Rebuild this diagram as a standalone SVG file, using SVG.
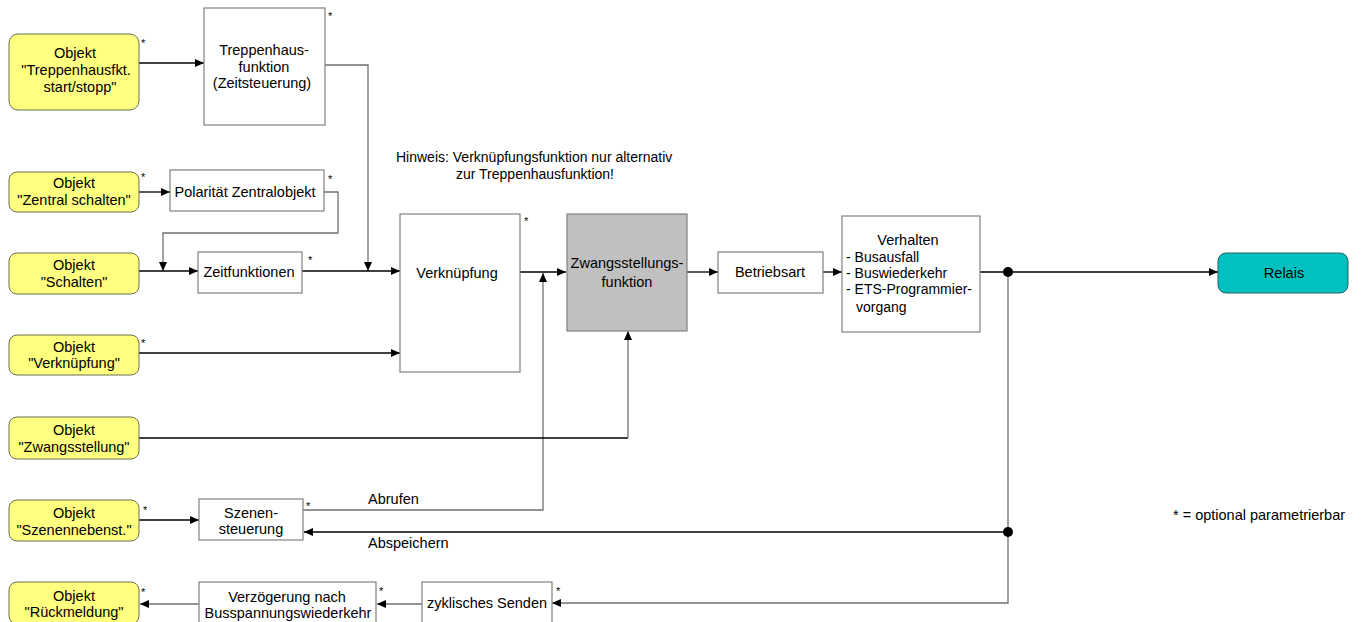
<svg xmlns="http://www.w3.org/2000/svg" width="1363" height="622" viewBox="0 0 1363 622">
<defs>
<marker id="ah" markerUnits="userSpaceOnUse" markerWidth="10" markerHeight="8" refX="9" refY="4" orient="auto">
<path d="M0,0 L9,4 L0,8 Z" fill="#000"/>
</marker>
<style>
text{font-family:"Liberation Sans",Arial,sans-serif;font-size:14.5px;fill:#000}
.c{text-anchor:middle}
.sm{font-size:14px}
.st{font-size:11px}
.obj{fill:#ffff80;stroke:#6f6f50;stroke-width:1}
.box{fill:#fff;stroke:#808080;stroke-width:1.2}
.gbox{fill:#c0c0c0;stroke:#808080;stroke-width:1.2}
.rel{fill:#00c0c0;stroke:#2f6060;stroke-width:1}
.ln{fill:none;stroke:#000;stroke-width:1.3}
.gl{fill:none;stroke:#707070;stroke-width:1.3}
.ar{marker-end:url(#ah)}
</style>
</defs>
<rect width="1363" height="622" fill="#fff"/>

<g id="connectors">
<path class="ln ar" d="M139,63 H204"/>
<path class="gl ar" d="M325,65 H368 V271"/>
<path class="ln ar" d="M139,192 H170"/>
<path class="gl ar" d="M324,192 H338 V233 H163 V271"/>
<path class="ln ar" d="M139,271 H198"/>
<path class="ln ar" d="M302,271 H400"/>
<path class="ln ar" d="M139,353 H400"/>
<path class="ln ar" d="M520,272 H566"/>
<path class="ln ar" d="M139,520 H199"/>
<path class="gl ar" d="M303,510 H543 V273"/>
<path class="ln" d="M139,438 H628"/>
<path class="gl ar" d="M628,438 V331"/>
<path class="ln ar" d="M687,272 H718"/>
<path class="ln ar" d="M823,272 H842"/>
<path class="ln ar" d="M980,272 H1218"/>
<path class="gl ar" d="M1008,272 V603 H552"/>
<path class="ln ar" d="M1008,532 H304"/>
<path class="gl ar" d="M422,604 H377"/>
<path class="gl ar" d="M199,604 H140"/>
<circle cx="1008" cy="272" r="5" fill="#000"/>
<circle cx="1008" cy="532" r="5" fill="#000"/>
<text x="368" y="504">Abrufen</text>
<text x="368" y="548">Abspeichern</text>
</g>

<g id="obj-treppenhaus">
<rect class="obj" x="9" y="34" width="130" height="76" rx="9"/>
<text class="c" x="75" y="58">Objekt</text>
<text class="c" x="76" y="75">"Treppenhausfkt.</text>
<text class="c" x="80" y="92">start/stopp"</text>
<text class="st" x="141" y="47">*</text>
</g>
<g id="obj-zentral">
<rect class="obj" x="9" y="172" width="130" height="40" rx="8"/>
<text class="c" x="74" y="188">Objekt</text>
<text class="c" x="74" y="205">"Zentral schalten"</text>
<text class="st" x="141" y="181">*</text>
</g>
<g id="obj-schalten">
<rect class="obj" x="9" y="253" width="130" height="41" rx="8"/>
<text class="c" x="74" y="270">Objekt</text>
<text class="c" x="74" y="287">"Schalten"</text>
</g>
<g id="obj-verknuepfung">
<rect class="obj" x="9" y="335" width="130" height="40" rx="8"/>
<text class="c" x="74" y="352">Objekt</text>
<text class="c" x="74" y="368">"Verknüpfung"</text>
<text class="st" x="141" y="347">*</text>
</g>
<g id="obj-zwangsstellung">
<rect class="obj" x="9" y="417" width="130" height="42" rx="8"/>
<text class="c" x="74" y="435">Objekt</text>
<text class="c" x="74" y="452">"Zwangsstellung"</text>
</g>
<g id="obj-szenen">
<rect class="obj" x="9" y="500" width="130" height="41" rx="8"/>
<text class="c" x="74" y="518">Objekt</text>
<text class="c" x="74" y="535">"Szenennebenst."</text>
<text class="st" x="143" y="514">*</text>
</g>
<g id="obj-rueckmeldung">
<rect class="obj" x="9" y="582" width="130" height="42" rx="8"/>
<text class="c" x="74" y="601">Objekt</text>
<text class="c" x="74" y="617">"Rückmeldung"</text>
<text class="st" x="141" y="596">*</text>
</g>

<g id="treppenhausfunktion">
<rect class="box" x="204" y="8" width="121" height="117"/>
<text class="c" x="264" y="55">Treppenhaus-</text>
<text class="c" x="264" y="72">funktion</text>
<text class="c" x="262" y="88">(Zeitsteuerung)</text>
<text class="st" x="328" y="20">*</text>
</g>
<g id="polaritaet">
<rect class="box" x="170" y="170" width="154" height="41"/>
<text class="c" x="245" y="197">Polarität Zentralobjekt</text>
<text class="st" x="328" y="183">*</text>
</g>
<g id="zeitfunktionen">
<rect class="box" x="198" y="252" width="104" height="41"/>
<text class="c" x="249" y="277">Zeitfunktionen</text>
<text class="st" x="308" y="264">*</text>
</g>
<g id="hinweis">
<text class="sm" x="396" y="162">Hinweis: Verknüpfungsfunktion nur alternativ</text>
<text class="sm" x="456" y="179">zur Treppenhausfunktion!</text>
</g>
<g id="verknuepfung">
<rect class="box" x="400" y="214" width="120" height="158"/>
<text class="c" x="457" y="278">Verknüpfung</text>
<text class="st" x="524" y="225">*</text>
</g>
<g id="zwangsstellungsfunktion">
<rect class="gbox" x="567" y="214" width="120" height="117"/>
<text class="c" x="627" y="268">Zwangsstellungs-</text>
<text class="c" x="627" y="287">funktion</text>
</g>
<g id="betriebsart">
<rect class="box" x="718" y="252" width="105" height="41"/>
<text class="c" x="770" y="277">Betriebsart</text>
</g>
<g id="verhalten">
<rect class="box" x="842" y="216" width="138" height="116"/>
<text class="c" x="908" y="245">Verhalten</text>
<text class="sm" x="846" y="262">- Busausfall</text>
<text class="sm" x="846" y="278">- Buswiederkehr</text>
<text class="sm" x="846" y="294">- ETS-Programmier-</text>
<text class="sm" x="856" y="312">vorgang</text>
</g>
<g id="relais">
<rect class="rel" x="1218" y="253" width="130" height="40" rx="8"/>
<text class="c" x="1284" y="278">Relais</text>
</g>
<g id="szenensteuerung">
<rect class="box" x="199" y="499" width="104" height="41"/>
<text class="c" x="251" y="518">Szenen-</text>
<text class="c" x="251" y="534">steuerung</text>
<text class="st" x="306" y="510">*</text>
</g>
<g id="verzoegerung">
<rect class="box" x="199" y="582" width="177" height="42"/>
<text class="c" x="287" y="602">Verzögerung nach</text>
<text class="c" x="288" y="618">Busspannungswiederkehr</text>
<text class="st" x="379" y="595">*</text>
</g>
<g id="zyklisch">
<rect class="box" x="422" y="582" width="130" height="42"/>
<text class="c" x="487" y="608">zyklisches Senden</text>
<text class="st" x="556" y="595">*</text>
</g>
<g id="legende">
<text x="1173" y="520">* = optional parametrierbar</text>
</g>
</svg>
